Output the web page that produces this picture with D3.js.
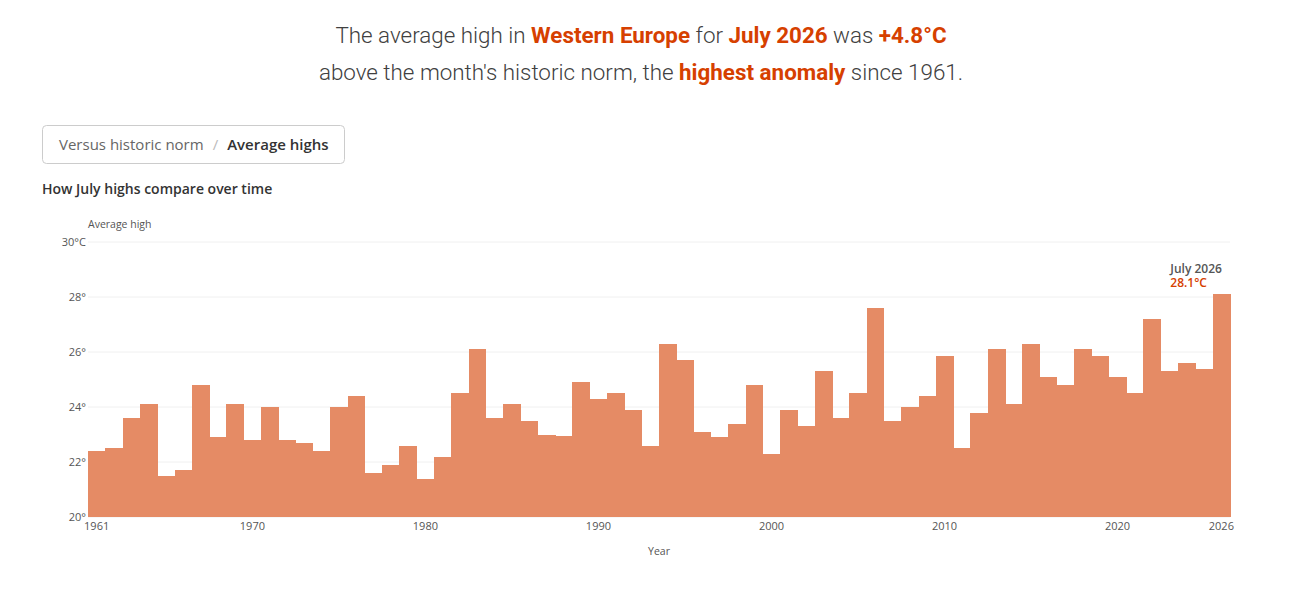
<!DOCTYPE html>
<html>
<head>
<meta charset="utf-8">
<script src="https://cdn.jsdelivr.net/npm/d3@7"></script>
<style>
  body { margin: 0; background: #fff; }
  svg text { font-family: "Open Sans", "Noto Sans", sans-serif; }
  .head { font-family: Roboto, sans-serif !important; font-size: 22.4px; font-weight: 300; fill: #404040; }
  .hl { font-weight: 700; fill: #d64000; }
</style>
</head>
<body>
<svg width="1309" height="589"></svg>
<script>
const years = d3.range(1961, 2027)
const highs = [
  22.4, 22.5, 23.6, 24.1, 21.5, 21.7, 24.8, 22.9, 24.1, 22.8,
  24.0, 22.8, 22.7, 22.4, 24.0, 24.4, 21.6, 21.9, 22.6, 21.4,
  22.2, 24.5, 26.1, 23.6, 24.1, 23.5, 23.0, 22.95, 24.9, 24.3,
  24.5, 23.9, 22.6, 26.3, 25.7, 23.1, 22.9, 23.4, 24.8, 22.3,
  23.9, 23.3, 25.3, 23.6, 24.5, 27.6, 23.5, 24.0, 24.4, 25.85,
  22.5, 23.8, 26.1, 24.1, 26.3, 25.1, 24.8, 26.1, 25.85, 25.1,
  24.5, 27.2, 25.3, 25.6, 25.4, 28.1
]
const yTicks = [20, 22, 24, 26, 28, 30]
const xTicks = [1961, 1970, 1980, 1990, 2000, 2010, 2020, 2026]

const data = years.map((y, i) => ({ year: y, value: highs[i] }))

const svg = d3.select('svg')
const width = +svg.attr('width')
const margin = { top: 242, right: 79, bottom: 72, left: 88 }
const innerWidth = width - margin.left - margin.right
const innerHeight = 517 - margin.top

const orange = '#d64000'
const barColor = '#e58b65'

// headline
const h1 = svg.append('text').attr('class', 'head').attr('x', 641).attr('y', 43).attr('text-anchor', 'middle')
h1.append('tspan').text('The average high in ')
h1.append('tspan').attr('class', 'hl').text('Western Europe')
h1.append('tspan').text(' for ')
h1.append('tspan').attr('class', 'hl').text('July 2026')
h1.append('tspan').text(' was ')
h1.append('tspan').attr('class', 'hl').text('+4.8°C')

const h2 = svg.append('text').attr('class', 'head').attr('x', 641).attr('y', 80).attr('text-anchor', 'middle')
h2.append('tspan').text("above the month's historic norm, the ")
h2.append('tspan').attr('class', 'hl').text('highest anomaly')
h2.append('tspan').text(' since 1961.')

// toggle button
svg.append('rect')
  .attr('x', 42.5).attr('y', 125.5).attr('width', 302).attr('height', 38)
  .attr('rx', 4).attr('fill', '#fff').attr('stroke', '#ccc')
const btn = svg.append('text').attr('x', 59).attr('y', 150).attr('font-size', 15)
btn.append('tspan').attr('fill', '#666').text('Versus historic norm')
btn.append('tspan').attr('fill', '#bbb').attr('dx', 9).text('/')
btn.append('tspan').attr('fill', '#333').attr('font-weight', 600).attr('dx', 9).text('Average highs')

svg.append('text')
  .attr('x', 42).attr('y', 194)
  .attr('font-size', 14).attr('font-weight', 600).attr('fill', '#333')
  .text('How July highs compare over time')

const g = svg.append('g')
  .attr('transform', 'translate(' + margin.left + ',' + margin.top + ')')

const xScale = d3.scaleBand()
  .domain(years)
  .range([0, innerWidth])
  .padding(0)

const yScale = d3.scaleLinear()
  .domain([20, 30])
  .range([innerHeight, 0])

// grid
g.append('g').selectAll('line').data(yTicks).join('line')
  .attr('x1', 0).attr('x2', innerWidth)
  .attr('y1', d => yScale(d)).attr('y2', d => yScale(d))
  .attr('stroke', '#f0f0f0')

const yAxis = g.append('g')
  .call(d3.axisLeft(yScale).tickValues(yTicks).tickSize(0).tickPadding(2)
    .tickFormat(d => d === 30 ? d + '°C' : d + '°'))
yAxis.select('.domain').remove()
yAxis.selectAll('text').attr('font-size', 11).attr('fill', '#555')

g.append('text')
  .attr('x', 0).attr('y', yScale(30) - 14)
  .attr('font-size', 10.5).attr('fill', '#555')
  .text('Average high')

g.append('g').attr('shape-rendering', 'crispEdges')
  .selectAll('rect').data(data).join('rect')
  .attr('x', d => xScale(d.year))
  .attr('y', d => yScale(d.value))
  .attr('width', xScale.bandwidth() + 0.5)
  .attr('height', d => yScale(20) - yScale(d.value))
  .attr('fill', barColor)

const xAxis = g.append('g')
  .attr('transform', 'translate(0,' + innerHeight + ')')
  .call(d3.axisBottom(xScale).tickValues(xTicks).tickSize(0).tickPadding(5))
xAxis.select('.domain').remove()
xAxis.selectAll('text').attr('font-size', 11).attr('fill', '#555')

g.append('text')
  .attr('x', innerWidth / 2).attr('y', innerHeight + 38)
  .attr('text-anchor', 'middle').attr('font-size', 10.5).attr('fill', '#555')
  .text('Year')

// annotation for latest year
const last = data[data.length - 1]
const ax = xScale(last.year) + xScale.bandwidth() / 2 - 51
g.append('text')
  .attr('x', ax).attr('y', yScale(last.value) - 21)
  .attr('font-size', 12).attr('font-weight', 600).attr('fill', '#555')
  .text('July ' + last.year)
g.append('text')
  .attr('x', ax).attr('y', yScale(last.value) - 7)
  .attr('font-size', 12).attr('font-weight', 600).attr('fill', orange)
  .text(last.value.toFixed(1) + '°C')
</script>
</body>
</html>
